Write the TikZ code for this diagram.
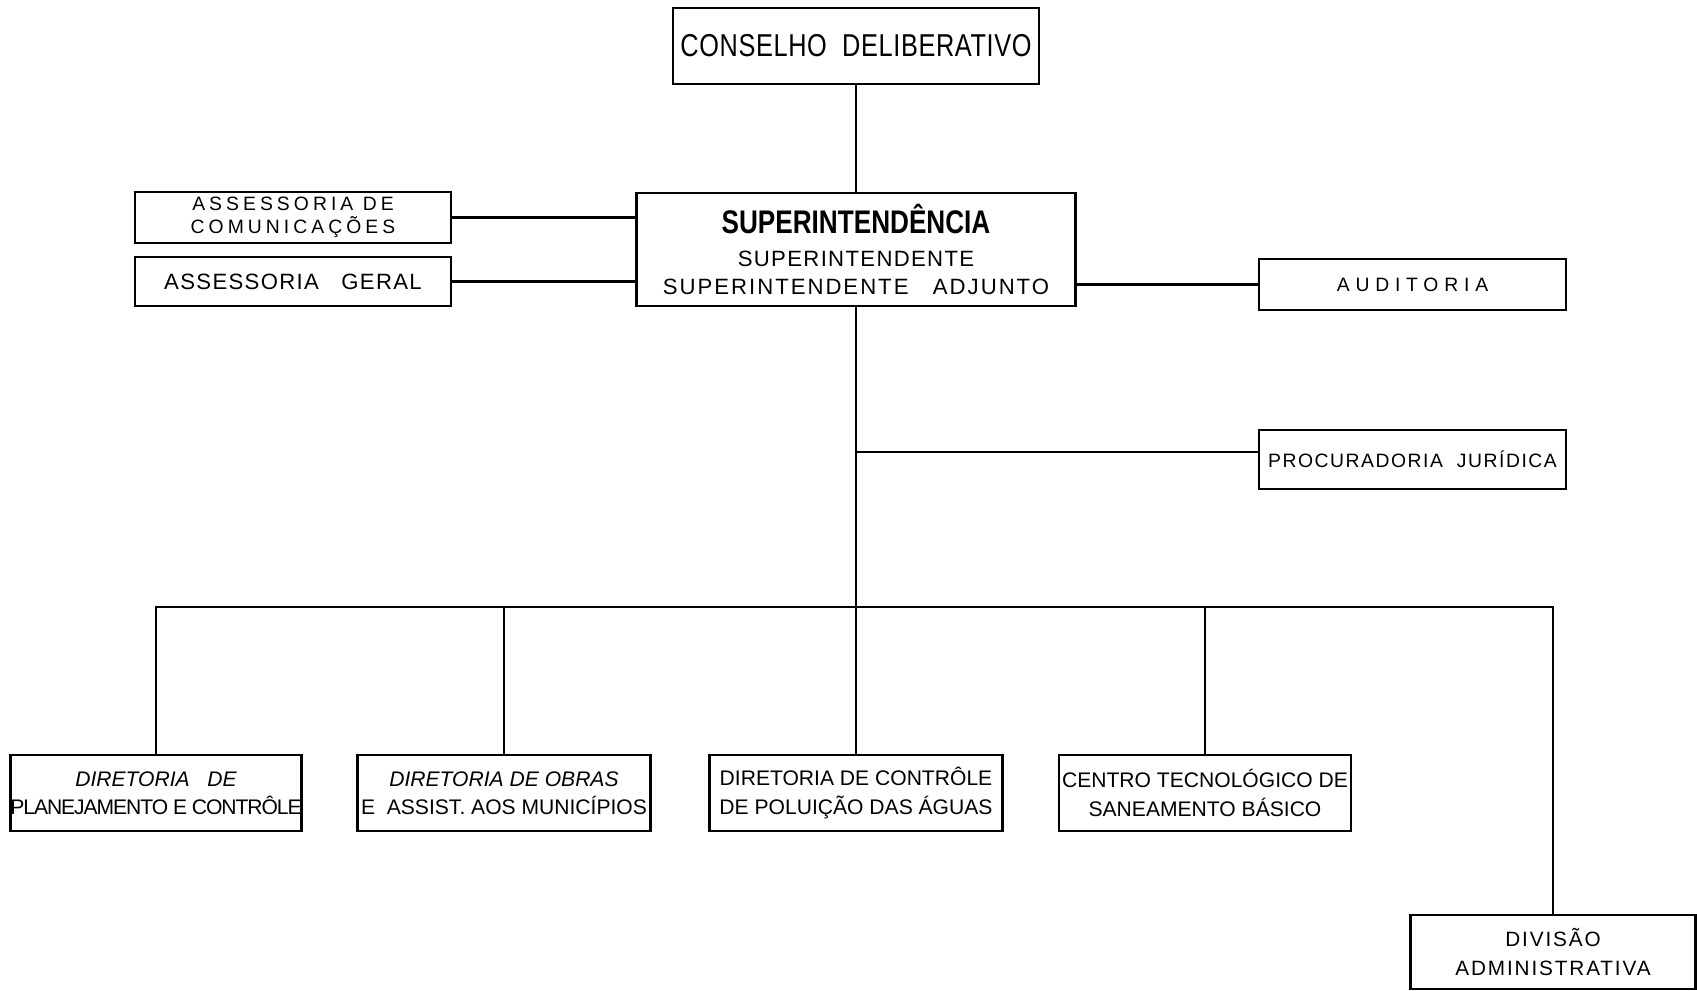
\documentclass[tikz,border=0pt]{standalone}
\usepackage{fontspec}
\setmainfont{Liberation Sans}
\newfontfamily\narrowfont[FakeStretch=0.8]{Liberation Sans}
\begin{document}
\begin{tikzpicture}
    \tikzstyle{orgbox}=[rectangle,draw,line width=0.8pt,inner sep=0pt,align=center]
    \tikzstyle{dirbox}=[orgbox,minimum width=2.92cm,minimum height=0.76cm,font=\fontsize{6}{8}\selectfont]
    \tikzstyle{orgline}=[line width=0.6pt]
    \useasboundingbox (0,0) rectangle (16.97,-9.91);
    % top of the chart
    \node[orgbox,minimum width=3.66cm,minimum height=0.76cm,
          font=\narrowfont\fontsize{9}{10}\selectfont\addfontfeature{LetterSpace=2}] (cons) at (8.56,-0.46)
        {CONSELHO\ \ DELIBERATIVO};
    \node[orgbox,minimum width=4.39cm,minimum height=1.13cm,
          font=\fontsize{6.3}{8}\selectfont\addfontfeature{LetterSpace=6}] (sup) at (8.56,-2.495)
        {{\narrowfont\bfseries\fontsize{9.3}{11}\selectfont SUPERINTENDÊNCIA}\\[1.5pt]
         SUPERINTENDENTE\\
         {\addfontfeature{LetterSpace=9}SUPERINTENDENTE\ \ \ ADJUNTO}};
    \node[orgbox,minimum width=3.16cm,minimum height=0.51cm,
          font=\fontsize{5.5}{6.5}\selectfont\addfontfeature{LetterSpace=21}] (ac) at (2.93,-2.175)
        {ASSESSORIA\ DE\\COMUNICAÇÕES};
    \node[orgbox,minimum width=3.16cm,minimum height=0.49cm,
          font=\fontsize{6.3}{8}\selectfont\addfontfeature{LetterSpace=6}] (ag) at (2.93,-2.815)
        {ASSESSORIA\ \ \ GERAL};
    \node[orgbox,minimum width=3.07cm,minimum height=0.51cm,
          font=\fontsize{5.5}{7}\selectfont\addfontfeature{LetterSpace=30}] (aud) at (14.125,-2.845)
        {AUDITORIA};
    \node[orgbox,minimum width=3.07cm,minimum height=0.59cm,
          font=\fontsize{5.5}{7}\selectfont\addfontfeature{LetterSpace=8}] (proc) at (14.125,-4.595)
        {PROCURADORIA\ \ JURÍDICA};
    % directorias
    \node[dirbox,minimum width=2.91cm] (d1) at (1.56,-7.93)
        {{\itshape DIRETORIA\ \ \ DE}\\{\addfontfeature{LetterSpace=-5}PLANEJAMENTO E CONTRÔLE}};
    \node[dirbox,minimum width=2.93cm] (d2) at (5.04,-7.93)
        {{\itshape DIRETORIA DE OBRAS}\\E\ \ ASSIST. AOS MUNICÍPIOS};
    \node[dirbox,minimum width=2.93cm] (d3) at (8.56,-7.93)
        {DIRETORIA DE CONTRÔLE\\DE POLUIÇÃO DAS ÁGUAS};
    \node[dirbox] (d4) at (12.05,-7.93)
        {CENTRO TECNOLÓGICO DE\\SANEAMENTO BÁSICO};
    \node[orgbox,minimum width=2.85cm,minimum height=0.74cm,
          font=\fontsize{5.9}{8.5}\selectfont\addfontfeature{LetterSpace=9}] (div) at (15.53,-9.52)
        {DIVISÃO\\ADMINISTRATIVA};
    % connectors
    \coordinate (bus) at (8.56,-6.07);
    \coordinate (pj) at (8.56,-4.52);
    \draw[orgline] (cons) -- (sup);
    \draw[orgline] (sup) -- (bus);
    \draw[orgline] (ac) -- (ac -| sup.west);
    \draw[orgline] (ag) -- (ag -| sup.west);
    \draw[orgline] (sup.east |- aud) -- (aud);
    \draw[orgline] (pj) -- (pj -| proc.west);
    \draw[orgline] (d1) |- (bus) -| (div);
    \draw[orgline] (d2) -- (d2 |- bus);
    \draw[orgline] (d3) -- (bus);
    \draw[orgline] (d4) -- (d4 |- bus);
\end{tikzpicture}
\end{document}
